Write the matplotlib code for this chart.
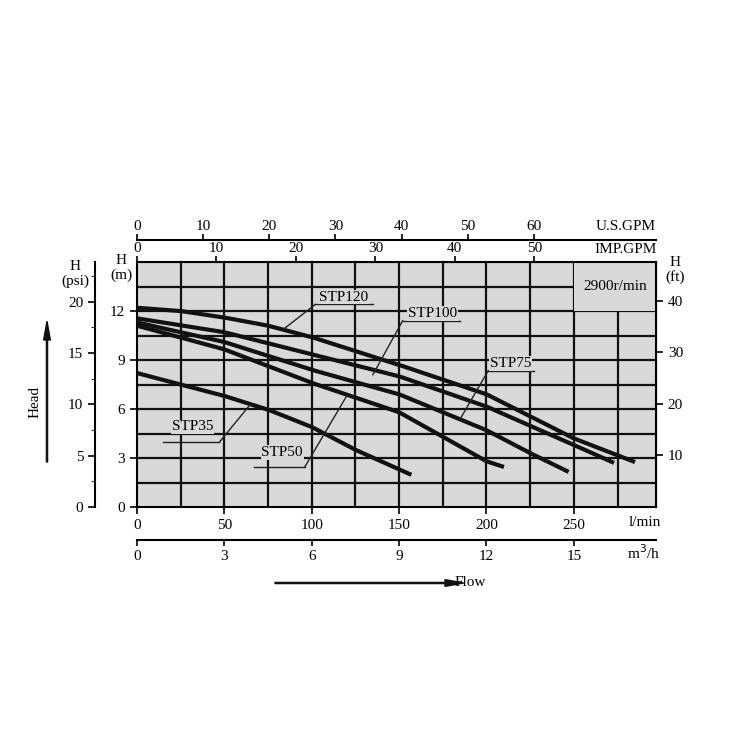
import numpy as np
import matplotlib
matplotlib.use("Agg")
import matplotlib.pyplot as plt
from matplotlib.patches import Rectangle

plt.rcParams['font.family'] = ['Liberation Serif', 'DejaVu Serif']

# flow (l/min) and head (m) per pump
stp120_q = [0, 25, 50, 75, 100, 150, 200, 250, 285]
stp120_h = [12.2, 12.0, 11.6, 11.1, 10.4, 8.7, 6.9, 4.2, 2.75]
stp100_q = [0, 50, 100, 150, 200, 250, 273]
stp100_h = [11.55, 10.7, 9.35, 8.0, 6.15, 3.8, 2.7]
stp75_q = [0, 50, 100, 150, 200, 225, 247]
stp75_h = [11.3, 10.1, 8.4, 6.9, 4.7, 3.3, 2.15]
stp50_q = [0, 50, 100, 150, 175, 200, 210]
stp50_h = [11.1, 9.65, 7.6, 5.8, 4.3, 2.8, 2.45]
stp35_q = [0, 50, 75, 100, 125, 157]
stp35_h = [8.2, 6.8, 5.96, 4.9, 3.5, 1.97]

lmin_ticks = [0, 50, 100, 150, 200, 250]
m_ticks = [0, 3, 6, 9, 12]
psi_ticks = [0, 5, 10, 15, 20]
ft_ticks = [10, 20, 30, 40]
usgpm_ticks = [0, 10, 20, 30, 40, 50, 60]
impgpm_ticks = [0, 10, 20, 30, 40, 50]
m3h_ticks = [0, 3, 6, 9, 12, 15]

XMAX, YMAX = 297, 15

fig = plt.figure(figsize=(7.5, 7.5), dpi=100)
ax = fig.add_axes([137/750, 1-507/750, 519/750, 245/750])
ax.set_facecolor('#d9d9d9')
ax.set_xlim(0, XMAX)
ax.set_ylim(0, YMAX)
for x in np.arange(25, XMAX, 25):
    ax.axvline(x, color='#111', lw=1.6, zorder=1)
for y in np.arange(1.5, YMAX, 1.5):
    ax.axhline(y, color='#111', lw=1.6, zorder=1)
ax.add_patch(Rectangle((250, 12), XMAX-250, 3, facecolor='#d9d9d9', edgecolor='none', zorder=2))
ax.text(273.5, 13.5, '2900r/min', ha='center', va='center', fontsize=11, zorder=3)

for q, h in [(stp120_q, stp120_h), (stp100_q, stp100_h), (stp75_q, stp75_h),
             (stp50_q, stp50_h), (stp35_q, stp35_h)]:
    qq = np.linspace(q[0], q[-1], 200)
    hh = np.interp(qq, q, h)
    ax.plot(qq, hh, color='#111', lw=3, zorder=4, solid_capstyle='butt')

# labels with leaders: (text x, text y, underline x0, x1, underline y, point x, point y)
labels = [('STP120', 118, 12.45, 102, 135, 12.4, 84, 10.9),
          ('STP100', 169, 11.45, 152, 185, 11.4, 135, 8.1),
          ('STP75', 214, 8.4, 201, 227, 8.35, 185, 5.4),
          ('STP35', 32, 4.5, 15, 47, 3.95, 65, 6.3),
          ('STP50', 83, 2.95, 67, 96, 2.45, 120, 6.8)]
for t, tx, ty, x0, x1, uy, px, py in labels:
    ax.text(tx, ty, t, ha='center', va='bottom', fontsize=11, zorder=6,
            bbox=dict(facecolor='#d9d9d9', edgecolor='none', pad=0.5))
    ax.plot([x0, x1], [uy, uy], color='#222', lw=1, zorder=5)
    ax.plot([x1 if px > x1 else x0, px], [uy, py], color='#222', lw=1, zorder=5)

for s in ax.spines.values():
    s.set_linewidth(1.5)
ax.set_xticks(lmin_ticks)
ax.set_yticks(m_ticks)
ax.tick_params(labelsize=11, length=5, width=1.2)

# psi axis
k_psi = 0.629
sp = ax.secondary_yaxis(-42/519, functions=(lambda m: m/k_psi, lambda p: p*k_psi))
sp.set_yticks(psi_ticks)
sp.set_yticks(np.arange(0, 23, 2.5), minor=True)
sp.tick_params(labelsize=11, length=5, width=1.2)
sp.tick_params(which='minor', length=3)
sp.spines['left'].set_linewidth(1.5)

# ft axis
k_ft = 0.316
sf = ax.secondary_yaxis('right', functions=(lambda m: m/k_ft, lambda f: f*k_ft))
sf.set_yticks(ft_ticks)
sf.tick_params(labelsize=11, length=5, width=1.2)

# top axes
si = ax.secondary_xaxis('top', functions=(lambda l: l/4.546, lambda g: g*4.546))
si.set_xticks(impgpm_ticks)
si.tick_params(labelsize=11, length=4, width=1.2, pad=1)
su = ax.secondary_xaxis(1+22/245, functions=(lambda l: l/3.785, lambda g: g*3.785))
su.set_xticks(usgpm_ticks)
su.tick_params(labelsize=11, length=4, width=1.2, pad=1)
su.spines['top'].set_linewidth(1.5)

# m3/h axis
sm = ax.secondary_xaxis(-33/245, functions=(lambda l: l*0.06, lambda v: v/0.06))
sm.set_xticks(m3h_ticks)
sm.tick_params(labelsize=11, length=4, width=1.2)
sm.spines['bottom'].set_linewidth(1.5)

ft = dict(fontsize=11, transform=fig.transFigure)
fig.text(626/750, 1-227/750, 'U.S.GPM', ha='center', va='center', **ft)
fig.text(626/750, 1-250/750, 'IMP.GPM', ha='center', va='center', **ft)
fig.text(645/750, 1-522/750, 'l/min', ha='center', va='center', **ft)
fig.text(643/750, 1-553/750, 'm$^3$/h', ha='center', va='center', **ft)
fig.text(75/750, 1-274/750, 'H\n(psi)', ha='center', va='center', linespacing=1.1, **ft)
fig.text(121/750, 1-268/750, 'H\n(m)', ha='center', va='center', linespacing=1.1, **ft)
fig.text(675/750, 1-270/750, 'H\n(ft)', ha='center', va='center', linespacing=1.1, **ft)
fig.text(35/750, 1-402/750, 'Head', rotation=90, ha='center', va='center', **ft)
fig.text(470/750, 1-583/750, 'Flow', ha='center', va='center', **ft)
fig.patches.append(matplotlib.patches.FancyArrow(47/750, 1-462/750, 0, 122/750, width=0.0015,
                   head_width=0.009, head_length=0.025, color='#111', transform=fig.transFigure))
fig.patches.append(matplotlib.patches.FancyArrow(275/750, 1-583/750, 170/750, 0, width=0.0015,
                   head_width=0.009, head_length=0.025, color='#111', transform=fig.transFigure))

fig.savefig('out.png', dpi=100, facecolor='white')
